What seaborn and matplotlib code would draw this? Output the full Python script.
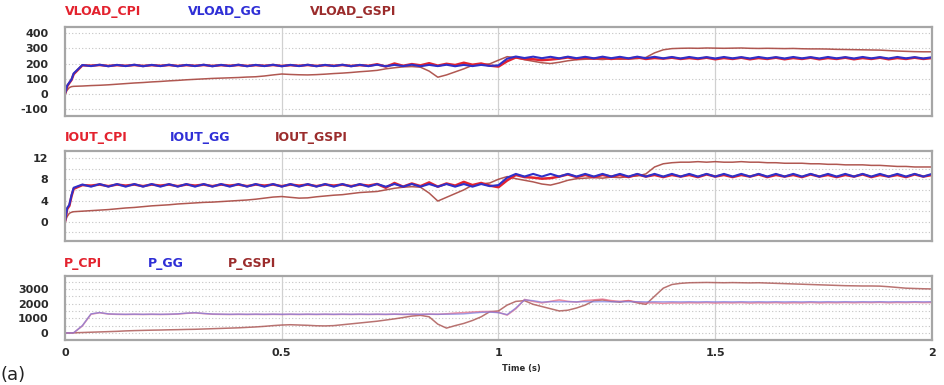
import numpy as np
import pandas as pd
import matplotlib
matplotlib.use("Agg")
import matplotlib.pyplot as plt
import seaborn as sns

# Simulation time base: a few fine steps at start-up, then 20 ms steps to 2 s
time_s = np.r_[0.0, 0.005, 0.01, 0.015, np.arange(1, 101) * 0.02]

# ---- Load voltage (V) ----
vload_cpi = [
    0, 50, 72, 92,
    130, 188, 186, 190, 184, 189, 185, 190, 184, 189,
    185, 190, 184, 189, 185, 190, 184, 189, 185, 190,
    184, 189, 185, 190, 184, 189, 185, 190, 184, 189,
    185, 190, 184, 189, 185, 195, 180, 200, 185, 196,
    188, 202, 186, 198, 190, 205, 192, 200, 186, 180,
    215, 240, 230, 228, 222, 226, 232, 240, 230, 238,
    232, 238, 230, 236, 232, 240, 230, 236, 232, 238,
    230, 236, 230, 238, 228, 236, 230, 238, 228, 236,
    230, 238, 228, 236, 230, 238, 228, 236, 230, 238,
    228, 236, 230, 238, 228, 236, 230, 238, 230, 236,
]
vload_gg = [
    0, 55, 75, 95,
    135, 190, 183, 192, 182, 191, 183, 192, 182, 191,
    183, 192, 182, 191, 183, 192, 182, 191, 183, 192,
    182, 191, 183, 192, 182, 191, 183, 192, 182, 191,
    183, 192, 182, 191, 183, 192, 182, 191, 183, 192,
    182, 191, 183, 192, 182, 191, 183, 191, 184, 188,
    232, 246, 236, 245, 235, 244, 234, 245, 235, 244,
    234, 245, 235, 244, 234, 245, 235, 244, 234, 243,
    233, 243, 234, 242, 233, 243, 234, 242, 233, 243,
    234, 242, 233, 243, 234, 242, 233, 243, 234, 242,
    233, 243, 234, 242, 233, 243, 234, 242, 233, 241,
]
vload_gspi = [
    0, 25, 42, 48,
    50, 52, 55, 57, 60, 64, 68, 72, 75, 79,
    82, 86, 89, 93, 96, 99, 102, 104, 106, 108,
    111, 113, 118, 125, 131, 128, 126, 125, 127, 130,
    134, 137, 141, 146, 150, 155, 165, 172, 178, 180,
    176, 150, 110, 125, 145, 165, 188, 192, 198, 222,
    245, 238, 225, 215, 205, 200, 208, 218, 225, 228,
    230, 226, 232, 228, 230, 232, 240, 270, 290, 298,
    300, 301, 300, 302, 301, 300, 301, 302, 300, 299,
    300, 299, 298, 299, 297, 296, 296, 295, 293, 292,
    291, 290, 289, 288, 285, 282, 280, 278, 277, 277,
]

# ---- Output current (A) ----
iout_cpi = [
    0, 2.4, 3.0, 4.8,
    6.2, 6.9, 6.8, 7.0, 6.7, 7.0, 6.8, 7.0, 6.7, 7.0,
    6.8, 7.0, 6.7, 7.0, 6.8, 7.0, 6.7, 7.0, 6.8, 7.0,
    6.7, 7.0, 6.8, 7.0, 6.7, 7.0, 6.8, 7.0, 6.7, 7.0,
    6.8, 7.0, 6.7, 7.0, 6.8, 7.1, 6.4, 7.3, 6.6, 7.2,
    6.7, 7.4, 6.6, 7.2, 6.8, 7.5, 6.9, 7.3, 6.8, 6.5,
    7.8, 8.8, 8.4, 8.3, 8.1, 8.2, 8.5, 8.9, 8.4, 8.8,
    8.4, 8.8, 8.5, 8.8, 8.4, 8.9, 8.5, 8.8, 8.4, 8.8,
    8.5, 8.8, 8.4, 8.9, 8.5, 8.8, 8.4, 8.8, 8.5, 8.9,
    8.4, 8.8, 8.5, 8.8, 8.4, 8.9, 8.5, 8.8, 8.4, 8.8,
    8.5, 8.9, 8.4, 8.8, 8.5, 8.8, 8.4, 8.9, 8.5, 8.8,
]
iout_gg = [
    0, 2.6, 3.2, 5.0,
    6.4, 7.0, 6.6, 7.1, 6.6, 7.1, 6.6, 7.1, 6.6, 7.1,
    6.6, 7.1, 6.6, 7.1, 6.6, 7.1, 6.6, 7.1, 6.6, 7.1,
    6.6, 7.1, 6.6, 7.1, 6.6, 7.1, 6.6, 7.1, 6.6, 7.1,
    6.6, 7.1, 6.6, 7.1, 6.6, 7.1, 6.6, 7.1, 6.6, 7.1,
    6.6, 7.1, 6.6, 7.1, 6.6, 7.1, 6.6, 7.1, 6.7, 6.9,
    8.3, 9.0, 8.5, 9.0, 8.5, 9.0, 8.5, 9.0, 8.5, 9.0,
    8.5, 9.0, 8.5, 9.0, 8.5, 9.0, 8.5, 9.0, 8.5, 9.0,
    8.5, 9.0, 8.5, 9.0, 8.5, 9.0, 8.5, 9.0, 8.5, 9.0,
    8.5, 9.0, 8.5, 9.0, 8.5, 9.0, 8.5, 9.0, 8.5, 9.0,
    8.5, 9.0, 8.5, 9.0, 8.5, 9.0, 8.5, 9.0, 8.5, 9.0,
]
iout_gspi = [
    0, 1.0, 1.6, 1.8,
    1.9, 2.0, 2.1, 2.2, 2.3, 2.45, 2.6, 2.7, 2.85, 3.0,
    3.1, 3.2, 3.35, 3.45, 3.55, 3.65, 3.7, 3.8, 3.9, 4.0,
    4.1, 4.25, 4.45, 4.65, 4.75, 4.6, 4.45, 4.5, 4.7, 4.85,
    5.0, 5.1, 5.3, 5.5, 5.6, 5.7, 6.0, 6.3, 6.5, 6.6,
    6.5, 5.4, 3.9, 4.6, 5.3, 6.0, 6.9, 7.1, 7.3, 8.0,
    8.5, 8.1, 7.8, 7.5, 7.1, 6.9, 7.3, 7.8, 8.1, 8.2,
    8.3, 8.2, 8.4, 8.3, 8.5, 8.6, 9.0, 10.3, 10.9, 11.1,
    11.2, 11.2, 11.3, 11.2, 11.3, 11.2, 11.2, 11.3, 11.2, 11.2,
    11.1, 11.1, 11.0, 11.0, 11.0, 10.9, 10.9, 10.8, 10.8, 10.7,
    10.7, 10.7, 10.6, 10.6, 10.5, 10.4, 10.4, 10.3, 10.3, 10.3,
]

# ---- Output power (W) ----
p_cpi = [
    0, 0, 0, 0,
    10, 480, 1280, 1380, 1290, 1270, 1260, 1270, 1260, 1270,
    1260, 1270, 1290, 1340, 1370, 1320, 1280, 1270, 1260, 1270,
    1260, 1270, 1260, 1270, 1260, 1270, 1260, 1270, 1260, 1270,
    1260, 1270, 1260, 1270, 1260, 1270, 1260, 1280, 1260, 1270,
    1260, 1280, 1270, 1300, 1350, 1380, 1420, 1450, 1460, 1400,
    1220, 1650, 2280, 2150, 2050, 2150, 2250, 2150, 2100, 2200,
    2250, 2300, 2200, 2150, 2200, 2100, 2050, 2050, 2020, 2050,
    2040, 2060, 2050, 2070, 2040, 2060, 2050, 2070, 2040, 2060,
    2050, 2070, 2040, 2060, 2050, 2080, 2050, 2070, 2060, 2080,
    2060, 2080, 2070, 2090, 2060, 2080, 2070, 2090, 2070, 2080,
]
p_gg = [
    0, 0, 0, 0,
    10, 500, 1300, 1390, 1300, 1280, 1270, 1280, 1270, 1280,
    1270, 1280, 1300, 1350, 1380, 1330, 1290, 1280, 1270, 1280,
    1270, 1280, 1270, 1280, 1270, 1280, 1270, 1280, 1270, 1280,
    1270, 1280, 1270, 1280, 1270, 1280, 1270, 1280, 1270, 1280,
    1270, 1280, 1270, 1280, 1280, 1300, 1350, 1400, 1420, 1380,
    1250, 1700, 2250, 2200, 2100, 2130, 2120, 2130, 2120, 2130,
    2120, 2130, 2120, 2130, 2120, 2130, 2120, 2130, 2120, 2130,
    2120, 2130, 2120, 2130, 2120, 2130, 2120, 2130, 2120, 2130,
    2120, 2130, 2120, 2130, 2120, 2130, 2120, 2130, 2120, 2130,
    2120, 2130, 2120, 2130, 2120, 2130, 2120, 2130, 2120, 2130,
]
p_gspi = [
    0, 0, 0, 0,
    10, 30, 50, 70, 90, 110, 140, 160, 175, 190,
    200, 215, 225, 240, 250, 270, 290, 310, 330, 350,
    380, 410, 450, 500, 540, 560, 540, 520, 490, 480,
    500, 560, 620, 680, 740, 800, 880, 960, 1050, 1150,
    1200, 1100, 600, 330, 500, 650, 850, 1100, 1450, 1500,
    1900, 2150, 2200, 1950, 1800, 1650, 1500, 1550, 1700, 1900,
    2200, 2250, 2150, 2100, 2200, 2050, 1950, 2500, 3050, 3300,
    3380, 3420, 3430, 3440, 3430, 3420, 3430, 3420, 3410, 3420,
    3400, 3380, 3360, 3340, 3320, 3300, 3280, 3260, 3240, 3220,
    3210, 3200, 3200, 3190, 3150, 3100, 3050, 3030, 3010, 3000,
]

x_ticks = [0, 0.5, 1, 1.5, 2]
x_tick_labels = ["0", "0.5", "1", "1.5", "2"]

panels = [
    dict(names=["VLOAD_CPI", "VLOAD_GG", "VLOAD_GSPI"],
         series=[vload_cpi, vload_gg, vload_gspi],
         yticks=[-100, 0, 100, 200, 300, 400], ylim=(-145, 440),
         grid_step=100, grid_from=-100,
         name_x=[65, 188, 310], box=(27, 116), title_y=12),
    dict(names=["IOUT_CPI", "IOUT_GG", "IOUT_GSPI"],
         series=[iout_cpi, iout_gg, iout_gspi],
         yticks=[0, 4, 8, 12], ylim=(-3.6, 13.3),
         grid_step=2, grid_from=-2,
         name_x=[65, 170, 275], box=(151, 241), title_y=138),
    dict(names=["P_CPI", "P_GG", "P_GSPI"],
         series=[p_cpi, p_gg, p_gspi],
         yticks=[0, 1000, 2000, 3000], ylim=(-480, 3880),
         grid_step=500, grid_from=0,
         name_x=[64, 148, 228], box=(276, 340), title_y=263),
]

name_colors = ["#e3222e", "#2f2fd6", "#9b2c2c"]

sns.set_style("white")
plt.rcParams["font.family"] = ["DejaVu Sans"]

W, H = 945, 385
fig = plt.figure(figsize=(W / 100, H / 100), dpi=100)

for k, pn in enumerate(panels):
    top, bot = pn["box"]
    ax = fig.add_axes([65 / W, 1 - bot / H, 867 / W, (bot - top) / H])
    ax.set_xlim(0, 2)
    ax.set_ylim(*pn["ylim"])

    # dotted horizontal grid and solid vertical grid
    lo, hi = pn["ylim"]
    g = pn["grid_from"]
    while g < hi:
        ax.axhline(g, color="#c4c4c4", lw=0.8, ls=(0, (1, 2)), zorder=0)
        g += pn["grid_step"]
    for xv in [0.5, 1.0, 1.5]:
        ax.axvline(xv, color="#d0d0d0", lw=0.9, zorder=0)

    cpi, gg, gspi = pn["series"]
    faint = k == 2
    df = pd.DataFrame({"t": time_s, "cpi": cpi, "gg": gg, "gspi": gspi})
    sns.lineplot(data=df, x="t", y="gspi", ax=ax,
                 color="#a8463f" if not faint else "#a8504e",
                 lw=1.1, alpha=0.9 if not faint else 0.8)
    sns.lineplot(data=df, x="t", y="cpi", ax=ax,
                 color="#e3222e" if not faint else "#e36a86",
                 lw=1.8 if not faint else 1.2, alpha=1.0 if not faint else 0.75)
    sns.lineplot(data=df, x="t", y="gg", ax=ax,
                 color="#3030c8" if not faint else "#7a7ae0",
                 lw=1.5 if not faint else 1.0, alpha=1.0 if not faint else 0.7)

    ax.set_xlabel("")
    ax.set_ylabel("")
    ax.set_yticks(pn["yticks"])
    ax.set_yticklabels([str(v) for v in pn["yticks"]],
                       fontsize=8, fontweight="bold", color="#2a2a2a")
    ax.set_xticks(x_ticks)
    if k == 2:
        ax.set_xticklabels(x_tick_labels, fontsize=8, fontweight="bold",
                           color="#2a2a2a")
    else:
        ax.set_xticklabels([])
    ax.tick_params(axis="y", length=0, pad=12)
    ax.tick_params(axis="x", length=0, pad=6)
    for sp in ax.spines.values():
        sp.set_visible(True)
        sp.set_color("#a6a6a6")
        sp.set_linewidth(1.6)

    for nm, xpx, col in zip(pn["names"], pn["name_x"], name_colors):
        fig.text(xpx / W, 1 - pn["title_y"] / H, nm, color=col,
                 fontsize=9, fontweight="bold", ha="left", va="center")

fig.text(521 / W, 1 - 368 / H, "Time (s)", fontsize=6, fontweight="bold",
         color="#2a2a2a", ha="center", va="center")
fig.text(1 / W, 1 - 375 / H, "(a)", fontsize=13, color="#222222",
         ha="left", va="center")

fig.savefig("out.png", dpi=100)
